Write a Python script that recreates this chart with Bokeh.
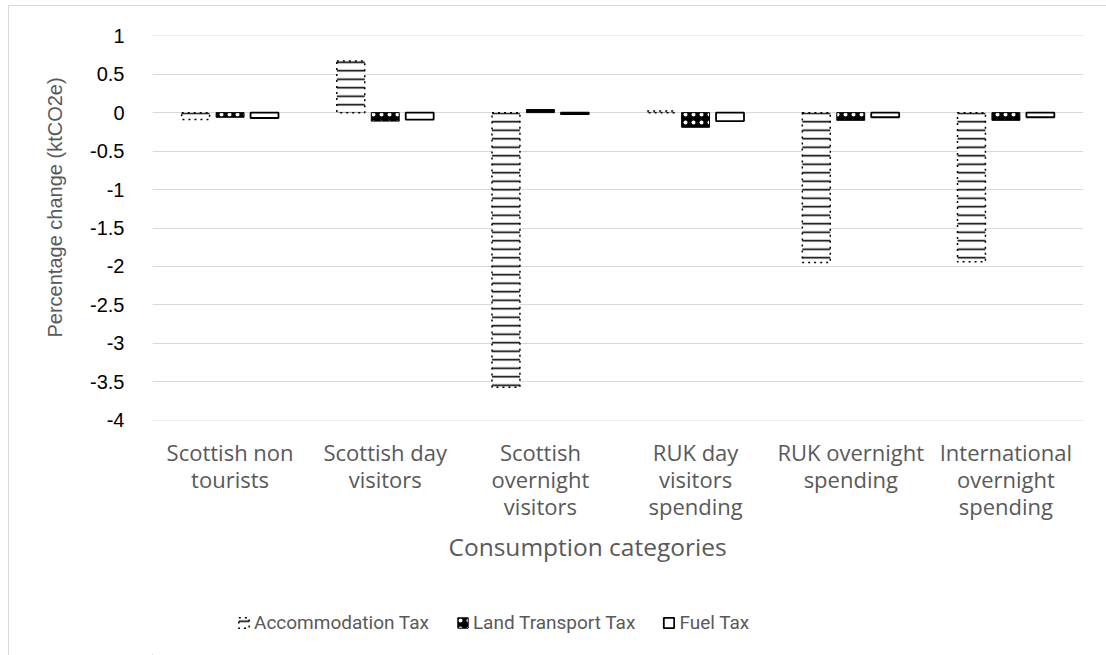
from bokeh.plotting import figure
from bokeh.layouts import column
from bokeh.models import (ColumnDataSource, FactorRange, Range1d, FixedTicker,
                          CustomJSTickFormatter, Legend, LegendItem, Title)
from bokeh.transform import dodge
from bokeh.embed import file_html
from bokeh.resources import INLINE

categories = ["Scottish non\ntourists", "Scottish day\nvisitors",
              "Scottish\novernight\nvisitors", "RUK day\nvisitors\nspending",
              "RUK overnight\nspending", "International\novernight\nspending"]
accommodation_tax = [-0.09, 0.67, -3.57, 0.02, -1.95, -1.94]
land_transport_tax = [-0.06, -0.11, 0.04, -0.19, -0.10, -0.10]
fuel_tax = [-0.07, -0.09, -0.02, -0.11, -0.06, -0.06]
series_names = ["Accommodation Tax", "Land Transport Tax", "Fuel Tax"]
y_ticks = [1, 0.5, 0, -0.5, -1, -1.5, -2, -2.5, -3, -3.5, -4]

src = ColumnDataSource(dict(cat=categories, acc=accommodation_tax,
                            land=land_transport_tax, fuel=fuel_tax))

acc_style = dict(fill_color="white", line_color="black", line_width=1.5,
                 line_dash="dotted", hatch_pattern="horizontal_line", hatch_color="black",
                 hatch_scale=8.5, hatch_weight=1.6)
land_style = dict(fill_color="black", line_color="black", line_width=1,
                  hatch_pattern="dot", hatch_color="white", hatch_scale=8, hatch_weight=1)
fuel_style = dict(fill_color="white", line_color="black", line_width=1.8)

p = figure(x_range=FactorRange(*categories), y_range=Range1d(-4.003, 1.003),
           width=1097, height=590,
           min_border_left=143, min_border_top=29, min_border_right=23,
           min_border_bottom=176,
           output_backend="svg", toolbar_location=None)
p.outline_line_color = None
p.background_fill_color = "white"
p.border_fill_color = "white"

p.vbar(x=dodge("cat", -0.222, range=p.x_range), top="acc", bottom=0, width=0.18,
       source=src, **acc_style)
p.vbar(x=dodge("cat", 0.0, range=p.x_range), top="land", bottom=0, width=0.18,
       source=src, **land_style)
p.vbar(x=dodge("cat", 0.222, range=p.x_range), top="fuel", bottom=0, width=0.18,
       source=src, **fuel_style)

p.xgrid.grid_line_color = None
p.ygrid.grid_line_color = "#d9d9d9"
p.ygrid.grid_line_width = 1

p.yaxis.ticker = FixedTicker(ticks=y_ticks)
p.yaxis.formatter = CustomJSTickFormatter(code="return tick.toString();")
p.yaxis.axis_line_color = None
p.yaxis.major_tick_line_color = None
p.yaxis.minor_tick_line_color = None
p.yaxis.major_label_text_font = "Liberation Sans"
p.yaxis.major_label_text_font_size = "20px"
p.yaxis.major_label_text_color = "black"
p.yaxis.major_label_standoff = 22

p.xaxis.axis_line_color = None
p.xaxis.major_tick_line_color = None
p.xaxis.minor_tick_line_color = None
p.xaxis.major_label_text_font = "Open Sans"
p.xaxis.major_label_text_font_size = "22px"
p.xaxis.major_label_text_color = "#595959"
p.xaxis.major_label_text_line_height = 0.9
p.xaxis.major_label_standoff = 10

ytitle = Title(text="Percentage change (ktCO2e)", align="left", offset=83,
               text_font="Liberation Sans", text_font_size="20px",
               text_font_style="normal", text_color="#595959", standoff=44)
p.add_layout(ytitle, "left")

xtitle = Title(text="Consumption categories", align="left", offset=296,
               text_font="Open Sans", text_font_size="24.5px",
               text_font_style="normal", text_color="#595959", standoff=8)
p.add_layout(xtitle, "below")

# Legend strip below the chart
p2 = figure(x_range=Range1d(0, 1), y_range=Range1d(0, 1), width=1097, height=59,
            min_border_left=0, min_border_right=0, min_border_top=0, min_border_bottom=0,
            output_backend="svg", toolbar_location=None)
p2.axis.visible = False
p2.grid.visible = False
p2.outline_line_color = None
p2.border_fill_color = "white"
l_acc = p2.vbar(x=[-50], top=[-50], bottom=[-51], width=0.1, **acc_style)
l_land = p2.vbar(x=[-50], top=[-50], bottom=[-51], width=0.1, **land_style)
l_fuel = p2.vbar(x=[-50], top=[-50], bottom=[-51], width=0.1, **fuel_style)

legend = Legend(items=[LegendItem(label=series_names[0], renderers=[l_acc]),
                       LegendItem(label=series_names[1], renderers=[l_land]),
                       LegendItem(label=series_names[2], renderers=[l_fuel])],
                orientation="horizontal", location=(85, 21),
                label_text_font="Roboto", label_text_font_size="19px",
                label_text_color="#595959", glyph_width=13, glyph_height=13,
                spacing=27, label_standoff=4, padding=2, margin=0,
                border_line_color=None, background_fill_alpha=0)
p2.add_layout(legend, "center")

layout = column(p, p2, spacing=0,
                styles={"margin-left": "8px", "margin-top": "5px",
                        "border-left": "1px solid #d9d9d9",
                        "border-top": "1px solid #d9d9d9"})

open("out.html", "w").write(file_html(layout, INLINE))
